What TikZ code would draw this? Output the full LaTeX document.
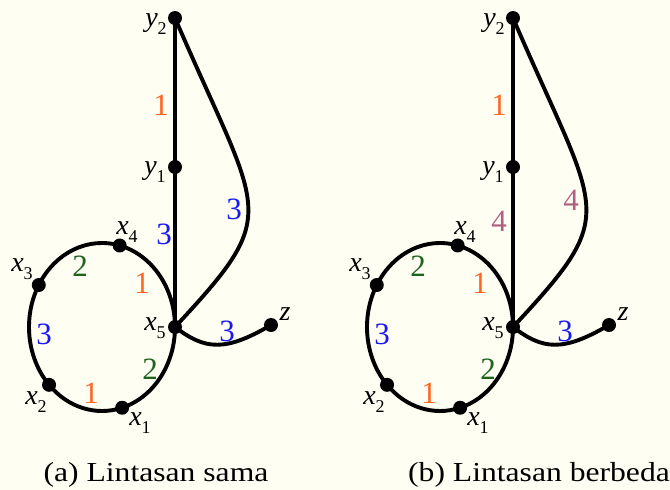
\documentclass[tikz,border=0pt]{standalone}
\usepackage{fontspec}
\setmainfont{Liberation Serif}[Ligatures=TeX]
\newfontfamily\tms{Liberation Serif}
\newfontfamily\tmswide{Liberation Serif}[FakeStretch=1.15]
\usetikzlibrary{calc}
\definecolor{bgc}{RGB}{254,254,242}
\definecolor{cOr}{RGB}{255,102,34}
\definecolor{cGr}{RGB}{30,100,30}
\definecolor{cBl}{RGB}{25,25,245}
\definecolor{cMv}{RGB}{176,96,128}
\newcommand\vlab[2]{\textit{#1}\raisebox{-0.3em}{\fontsize{18}{18}\selectfont #2}}
\begin{document}
\begin{tikzpicture}[x=1pt,y=-1pt,
  dot/.style={circle,fill=black,inner sep=0pt,minimum size=14pt},
  gline/.style={line width=3.9pt,black},
  vl/.style={inner sep=0pt,font=\tms\fontsize{28}{28}\selectfont},
  wl/.style={inner sep=0pt,font=\tms\fontsize{31}{31}\selectfont},
  captxt/.style={inner sep=0pt,anchor=base,font=\tmswide\fontsize{27.5}{27.5}\selectfont}]
\fill[bgc] (0,0) rectangle (670,490);
\useasboundingbox (0,0) rectangle (670,490);
% ---------------- (a)
\begin{scope}
\coordinate (aC) at (102,327);
\node[dot] (ay2) at (175,18) {};
\node[dot] (ay1) at (175,167) {};
\node[dot] (ax5) at (175,327) {};
\node[dot] (ax4) at ($(aC)+(-76:73 and 84)$) {};
\node[dot] (ax3) at ($(aC)+(-150:73 and 84)$) {};
\node[dot] (ax2) at ($(aC)+(-223.5:73 and 84)$) {};
\node[dot] (ax1) at ($(aC)+(-286:73 and 84)$) {};
\node[dot] (az) at (271,325) {};
\draw[gline] (ay2.center) -- (ay1.center);
\draw[gline] (ay1.center) -- (ax5.center);
\draw[gline] (ay2.center) .. controls +(86,200) and +(109,-117) .. (ax5.center);
\draw[gline] (ax5.center) .. controls +(30,23) and +(-46,27) .. (az.center);
\draw[gline] (ax5.center) arc[start angle=0,end angle=-76,x radius=73,y radius=84];
\draw[gline] (ax4.center) arc[start angle=-76,end angle=-150,x radius=73,y radius=84];
\draw[gline] (ax3.center) arc[start angle=-150,end angle=-223.5,x radius=73,y radius=84];
\draw[gline] (ax2.center) arc[start angle=-223.5,end angle=-286,x radius=73,y radius=84];
\draw[gline] (ax1.center) arc[start angle=-286,end angle=-360,x radius=73,y radius=84];
\node[vl] (lay2) at (156,24) {\vlab{y}{2}};
\node[vl] (lay1) at (155,172) {\vlab{y}{1}};
\node[vl] (lax4) at (127,232) {\vlab{x}{4}};
\node[vl] (lax3) at (22,269) {\vlab{x}{3}};
\node[vl] (lax5) at (155,328) {\vlab{x}{5}};
\node[vl] (lax2) at (36,402) {\vlab{x}{2}};
\node[vl] (lax1) at (140,423) {\vlab{x}{1}};
\node[vl] (laz) at (285,314) {\textit{z}};
\node[wl,cOr] (wa1) at (161,105) {1};
\node[wl,cBl] (wa2) at (164,234) {3};
\node[wl,cBl] (wa3) at (234,209) {3};
\node[wl,cOr] (wa4) at (142,283) {1};
\node[wl,cGr] (wa5) at (80,266) {2};
\node[wl,cBl] (wa6) at (44,334) {3};
\node[wl,cOr] (wa7) at (91,393) {1};
\node[wl,cGr] (wa8) at (150,369) {2};
\node[wl,cBl] (wa9) at (227,331) {3};
\end{scope}
% ---------------- (b)
\begin{scope}[xshift=338pt]
\coordinate (bC) at (102,327);
\node[dot] (by2) at (175,18) {};
\node[dot] (by1) at (175,167) {};
\node[dot] (bx5) at (175,327) {};
\node[dot] (bx4) at ($(bC)+(-76:73 and 84)$) {};
\node[dot] (bx3) at ($(bC)+(-150:73 and 84)$) {};
\node[dot] (bx2) at ($(bC)+(-223.5:73 and 84)$) {};
\node[dot] (bx1) at ($(bC)+(-286:73 and 84)$) {};
\node[dot] (bz) at (271,325) {};
\draw[gline] (by2.center) -- (by1.center);
\draw[gline] (by1.center) -- (bx5.center);
\draw[gline] (by2.center) .. controls +(86,200) and +(109,-117) .. (bx5.center);
\draw[gline] (bx5.center) .. controls +(30,23) and +(-46,27) .. (bz.center);
\draw[gline] (bx5.center) arc[start angle=0,end angle=-76,x radius=73,y radius=84];
\draw[gline] (bx4.center) arc[start angle=-76,end angle=-150,x radius=73,y radius=84];
\draw[gline] (bx3.center) arc[start angle=-150,end angle=-223.5,x radius=73,y radius=84];
\draw[gline] (bx2.center) arc[start angle=-223.5,end angle=-286,x radius=73,y radius=84];
\draw[gline] (bx1.center) arc[start angle=-286,end angle=-360,x radius=73,y radius=84];
\node[vl] (lby2) at (156,24) {\vlab{y}{2}};
\node[vl] (lby1) at (155,172) {\vlab{y}{1}};
\node[vl] (lbx4) at (127,232) {\vlab{x}{4}};
\node[vl] (lbx3) at (22,269) {\vlab{x}{3}};
\node[vl] (lbx5) at (155,328) {\vlab{x}{5}};
\node[vl] (lbx2) at (36,402) {\vlab{x}{2}};
\node[vl] (lbx1) at (140,423) {\vlab{x}{1}};
\node[vl] (lbz) at (285,314) {\textit{z}};
\node[wl,cOr] (wb1) at (161,105) {1};
\node[wl,cMv] (wb2) at (161,221) {4};
\node[wl,cMv] (wb3) at (233,200) {4};
\node[wl,cOr] (wb4) at (142,283) {1};
\node[wl,cGr] (wb5) at (80,266) {2};
\node[wl,cBl] (wb6) at (44,334) {3};
\node[wl,cOr] (wb7) at (91,393) {1};
\node[wl,cGr] (wb8) at (150,369) {2};
\node[wl,cBl] (wb9) at (227,331) {3};
\end{scope}
\node[captxt] (capa) at (156,481) {(a) Lintasan sama};
\node[captxt] (capb) at (539,481) {(b) Lintasan berbeda};
\end{tikzpicture}
\end{document}
